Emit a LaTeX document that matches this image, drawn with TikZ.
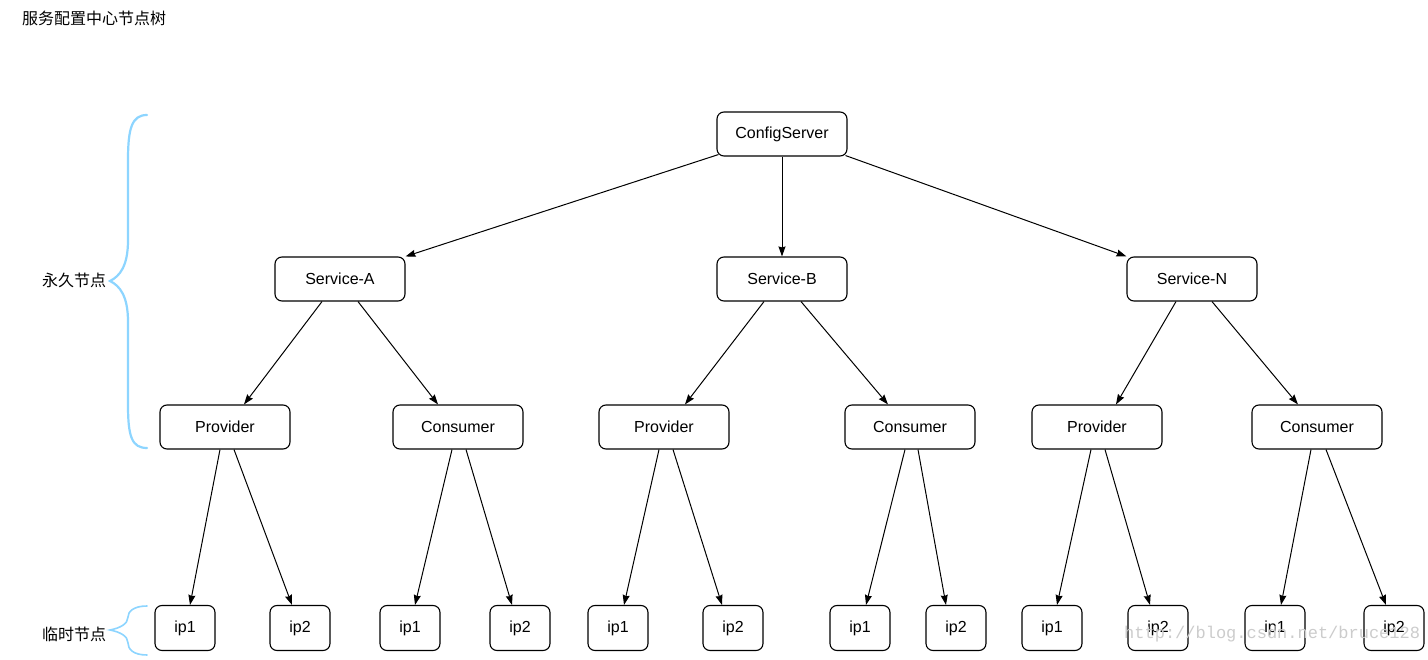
\documentclass[tikz,border=0pt]{standalone}
\usepackage{fontspec}
\setmainfont{Liberation Sans}
\newfontfamily\cjk{Noto Sans CJK SC}
\newfontfamily\wmfont{Liberation Mono}
\usetikzlibrary{arrows.meta}
\definecolor{bracecol}{HTML}{8DD5FF}
\tikzset{
  box/.style={draw=black, line width=1.1pt, rounded corners=7pt, fill=white,
    minimum width=130pt, minimum height=44pt, inner sep=0pt,
    font=\fontsize{16}{19}\selectfont},
  ipbox/.style={box, minimum width=60pt, minimum height=45pt},
  link/.style={draw=black, line width=1pt, -{Stealth[length=10pt,width=7pt,inset=1pt]}},
  bracestyle/.style={draw=bracecol, line width=2.2pt, line cap=round},
  cjklabel/.style={font=\cjk\fontsize{16}{19}\selectfont, inner sep=0pt}
}
\begin{document}
\begin{tikzpicture}[x=1pt, y=-1pt]
\useasboundingbox (0,0) rectangle (1428,660);
\fill[white] (0,0) rectangle (1428,660);

\node[cjklabel, anchor=west] (title) at (22,18) {服务配置中心节点树};

% level 0
\node[box] (cs) at (782,134) {ConfigServer};
% level 1
\node[box] (sa) at (340,279) {Service-A};
\node[box] (sb) at (782,279) {Service-B};
\node[box] (sn) at (1192,279) {Service-N};
% level 2
\node[box] (pa) at (225,427) {Provider};
\node[box] (ca) at (458,427) {Consumer};
\node[box] (pb) at (664,427) {Provider};
\node[box] (cb) at (910,427) {Consumer};
\node[box] (pn) at (1097,427) {Provider};
\node[box] (cn) at (1317,427) {Consumer};
% level 3
\node[ipbox] (pa1) at (185,628) {ip1};
\node[ipbox] (pa2) at (300,628) {ip2};
\node[ipbox] (ca1) at (410,628) {ip1};
\node[ipbox] (ca2) at (520,628) {ip2};
\node[ipbox] (pb1) at (618,628) {ip1};
\node[ipbox] (pb2) at (733,628) {ip2};
\node[ipbox] (cb1) at (860,628) {ip1};
\node[ipbox] (cb2) at (956,628) {ip2};
\node[ipbox] (pn1) at (1052,628) {ip1};
\node[ipbox] (pn2) at (1158,628) {ip2};
\node[ipbox] (cn1) at (1275,628) {ip1};
\node[ipbox] (cn2) at (1394,628) {ip2};

% connectors level 0 -> 1
\draw[link] ([xshift=2pt,yshift=2pt]cs.south west) -- (sa.north east);
\draw[link] (cs.south) -- (sb.north);
\draw[link] ([xshift=-2pt,yshift=1pt]cs.south east) -- (sn.north west);
% level 1 -> 2
\draw[link] ([xshift=-18pt]sa.south) -- ([xshift=19pt]pa.north);
\draw[link] ([xshift=18pt]sa.south) -- ([xshift=-20pt]ca.north);
\draw[link] ([xshift=-18pt]sb.south) -- ([xshift=21pt]pb.north);
\draw[link] ([xshift=19pt]sb.south) -- ([xshift=-22pt]cb.north);
\draw[link] ([xshift=-16pt]sn.south) -- ([xshift=19pt]pn.north);
\draw[link] ([xshift=20pt]sn.south) -- ([xshift=-19pt]cn.north);
% level 2 -> 3
\draw[link] ([xshift=-5pt]pa.south) -- ([xshift=5pt]pa1.north);
\draw[link] ([xshift=9pt]pa.south) -- ([xshift=-8pt]pa2.north);
\draw[link] ([xshift=-6pt]ca.south) -- ([xshift=5pt]ca1.north);
\draw[link] ([xshift=8pt]ca.south) -- ([xshift=-8pt]ca2.north);
\draw[link] ([xshift=-5pt]pb.south) -- ([xshift=6pt]pb1.north);
\draw[link] ([xshift=9pt]pb.south) -- ([xshift=-11pt]pb2.north);
\draw[link] ([xshift=-5pt]cb.south) -- ([xshift=6pt]cb1.north);
\draw[link] ([xshift=8pt]cb.south) -- ([xshift=-10pt]cb2.north);
\draw[link] ([xshift=-6pt]pn.south) -- ([xshift=5pt]pn1.north);
\draw[link] ([xshift=8pt]pn.south) -- ([xshift=-8pt]pn2.north);
\draw[link] ([xshift=-6pt]cn.south) -- ([xshift=6pt]cn1.north);
\draw[link] ([xshift=9pt]cn.south) -- ([xshift=-8pt]cn2.north);

% braces
\draw[bracestyle] (147,115) .. controls (132,115) and (128,128) .. (128,160)
  -- (128,240) .. controls (128,266) and (120,276) .. (110,281)
  .. controls (120,286) and (128,296) .. (128,322)
  -- (128,405) .. controls (128,437) and (132,448) .. (147,448);
\draw[bracestyle, line width=1.6pt] (147,606) .. controls (133,606) and (128,612) .. (128,617)
  .. controls (128,624) and (120,628) .. (110,630)
  .. controls (120,632) and (128,636) .. (128,643)
  .. controls (128,649) and (133,655) .. (147,655);

\node[cjklabel] (perm) at (74,280) {永久节点};
\node[cjklabel] (temp) at (74,634) {临时节点};

% watermark
\node[anchor=west, inner sep=0pt, text=black!20, font=\wmfont\fontsize{17}{20}\selectfont] (wm) at (1124,634) {http://blog.csdn.net/bruce128};
\end{tikzpicture}
\end{document}
